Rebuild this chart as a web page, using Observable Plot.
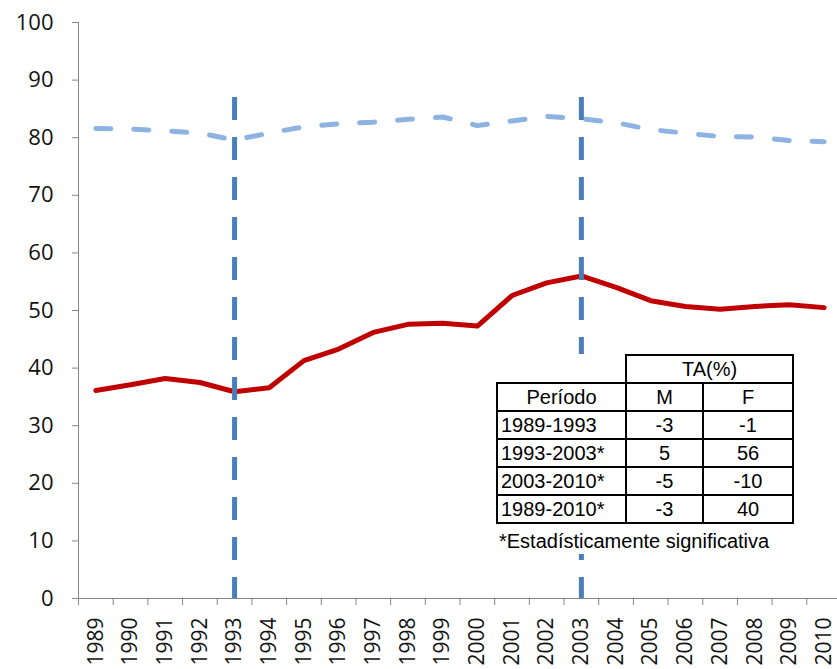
<!DOCTYPE html>
<html><head><meta charset="utf-8">
<script src="https://cdn.jsdelivr.net/npm/d3@7"></script>
<script src="https://cdn.jsdelivr.net/npm/@observablehq/plot@0.6"></script>
<style>
body{margin:0;background:#fff;}
#wrap{position:relative;width:837px;height:669px;overflow:hidden;background:#fff;}
#wrap svg{position:absolute;left:0;top:0;}
#tbl{position:absolute;left:496px;top:354px;border-collapse:collapse;background:#fff;font-family:"Liberation Sans",Arial,sans-serif;font-size:20px;color:#000;}
#tbl td{border:2px solid #000;height:26px;padding:0;line-height:26px;text-align:center;white-space:nowrap;}
#tbl td.blank{border-left:none;border-top:none;}
#tbl td.per{text-align:left;padding-left:3px;}
#note{position:absolute;left:499px;top:528px;height:26px;line-height:26px;background:#fff;font-family:"Liberation Sans",Arial,sans-serif;font-size:20px;color:#000;white-space:nowrap;}
</style></head>
<body><div id="wrap"></div>
<script>
const years = [1989,1990,1991,1992,1993,1994,1995,1996,1997,1998,1999,2000,2001,2002,2003,2004,2005,2006,2007,2008,2009,2010];
const male = [81.6,81.5,81.2,80.8,79.6,80.8,81.9,82.4,82.7,83.2,83.6,82.1,82.9,83.7,83.3,82.6,81.4,80.8,80.2,80.1,79.5,79.3];
const female = [36.1,37.1,38.2,37.5,35.9,36.6,41.3,43.3,46.2,47.6,47.8,47.3,52.6,54.8,56.0,54.0,51.7,50.7,50.2,50.7,51.0,50.5];
const breakYears = [1993, 2003];
const breakTop = 87;
const yTicks = [0,10,20,30,40,50,60,70,80,90,100];
const tableTitle = "TA(%)";
const tableHeader = ["Período","M","F"];
const tablePeriods = ["1989-1993","1993-2003*","2003-2010*","1989-2010*"];
const tableM = ["-3","5","-5","-3"];
const tableF = ["-1","56","-10","40"];
const footnote = "*Estadísticamente significativa";

const data = years.map((y,i)=>({year:y, m:male[i], f:female[i]}));
const boundaries = years.map(y=>y-0.5).concat([years[years.length-1]+0.5]);

const chart = Plot.plot({
  width: 837, height: 669,
  marginLeft: 78, marginTop: 22, marginBottom: 71, marginRight: 0,
  x: {domain: [1988.5, 2010.5], range: [78, 841], axis: null, label: null},
  y: {domain: [0, 100], range: [598, 22], axis: null, label: null},
  style: {fontFamily: "'Open Sans', sans-serif", fontSize: "22px", color: "#000", background: "#fff", overflow: "hidden"},
  marks: [
    Plot.ruleX([1988.5], {stroke: "#868686", strokeWidth: 1}),
    Plot.ruleY([0], {stroke: "#868686", strokeWidth: 1}),
    Plot.axisY({ticks: yTicks, tickSize: 6, tickPadding: 19, stroke: "#868686", fill: "#111", fontSize: 22, label: null}),
    Plot.axisX({ticks: boundaries, tickSize: 7, tickFormat: () => "", stroke: "#868686", label: null}),
    Plot.text(years, {x: d => d, frameAnchor: "bottom", dy: 19, rotate: -90, textAnchor: "end", lineAnchor: "middle", fontSize: 21, fill: "#111", text: d => String(d)}),
    Plot.line(data, {x: "year", y: "m", stroke: "#8db3e2", strokeWidth: 5, strokeDasharray: "15,23", strokeLinecap: "round", strokeLinejoin: "round"}),
    Plot.line(data, {x: "year", y: "f", stroke: "#c00000", strokeWidth: 5, strokeLinejoin: "round"}),
    Plot.ruleX(breakYears, {y1: breakTop, y2: 0, stroke: "#4a7ebb", strokeWidth: 5, strokeDasharray: "23,17"})
  ]
});
const wrap = document.getElementById("wrap");
wrap.appendChild(chart);

// table overlay
const tbl = document.createElement("table");
tbl.id = "tbl";
const widths = [127, 75, 88];
let tr = tbl.insertRow();
let c = tr.insertCell(); c.className = "blank"; c.style.width = widths[0] + "px";
c = tr.insertCell(); c.colSpan = 2; c.textContent = tableTitle;
tr = tbl.insertRow();
tableHeader.forEach((h, i) => { const td = tr.insertCell(); td.textContent = h; td.style.width = widths[i] + "px"; });
tablePeriods.forEach((p, i) => {
  const r = tbl.insertRow();
  const a = r.insertCell(); a.textContent = p; a.className = "per";
  const b = r.insertCell(); b.textContent = tableM[i];
  const d = r.insertCell(); d.textContent = tableF[i];
});
wrap.appendChild(tbl);
const note = document.createElement("div");
note.id = "note";
note.textContent = footnote;
wrap.appendChild(note);
</script>
</body></html>
